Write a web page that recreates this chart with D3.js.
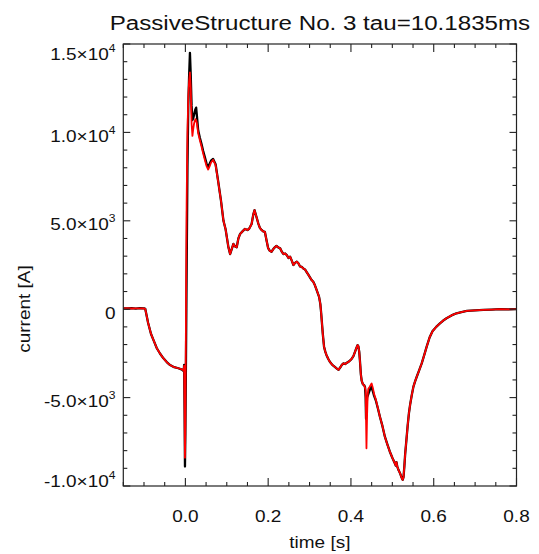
<!DOCTYPE html>
<html><head><meta charset="utf-8">
<script src="https://cdn.jsdelivr.net/npm/d3@7"></script>
<style>html,body{margin:0;padding:0;background:#fff;} svg{display:block;}</style>
</head><body><svg id="c" width="539" height="554"></svg>
<script>
const titleText = "PassiveStructure No. 3 tau=10.1835ms";
const xLabel = "time [s]";
const yLabel = "current [A]";
const xTicks = [0.0, 0.2, 0.4, 0.6, 0.8];
const xTickLabels = ["0.0", "0.2", "0.4", "0.6", "0.8"];
const yTicks = [-10000, -5000, 0, 5000, 10000, 15000];
const yTickMantissa = ["-1.0\u00d710", "-5.0\u00d710", "0", "5.0\u00d710", "1.0\u00d710", "1.5\u00d710"];
const yTickExponent = ["4", "3", "", "3", "4", "4"];

const time = [-0.150,-0.140,-0.130,-0.120,-0.110,-0.100,-0.097,-0.090,-0.083,-0.077,-0.069,-0.061,-0.053,-0.045,-0.037,-0.027,-0.017,-0.008,-0.004,-0.003,-0.002,-0.001,0.000,0.001,0.003,0.005,0.007,0.009,0.011,0.013,0.015,0.017,0.019,0.021,0.024,0.026,0.028,0.031,0.035,0.039,0.043,0.047,0.051,0.055,0.058,0.062,0.067,0.073,0.079,0.086,0.092,0.097,0.104,0.108,0.112,0.116,0.120,0.124,0.128,0.132,0.138,0.144,0.150,0.154,0.160,0.164,0.167,0.172,0.176,0.180,0.184,0.188,0.192,0.196,0.200,0.204,0.208,0.214,0.220,0.225,0.229,0.233,0.237,0.241,0.245,0.249,0.253,0.257,0.261,0.265,0.269,0.273,0.277,0.281,0.285,0.289,0.293,0.297,0.301,0.305,0.309,0.313,0.317,0.320,0.323,0.326,0.328,0.330,0.332,0.335,0.338,0.341,0.345,0.349,0.355,0.361,0.366,0.370,0.374,0.378,0.382,0.386,0.390,0.394,0.398,0.402,0.406,0.410,0.413,0.416,0.418,0.420,0.422,0.424,0.426,0.429,0.432,0.434,0.4355,0.4365,0.4375,0.439,0.4405,0.442,0.445,0.4485,0.450,0.453,0.456,0.460,0.465,0.470,0.476,0.482,0.488,0.494,0.500,0.506,0.5085,0.510,0.512,0.515,0.519,0.522,0.525,0.527,0.529,0.531,0.534,0.537,0.540,0.543,0.547,0.551,0.555,0.559,0.565,0.571,0.577,0.583,0.590,0.597,0.606,0.615,0.623,0.631,0.643,0.655,0.667,0.680,0.700,0.720,0.740,0.760,0.780,0.800];

const measured = [50,40,60,30,60,50,20,-780,-1400,-1750,-2210,-2520,-2780,-2990,-3160,-3280,-3340,-3420,-3500,-3150,-5600,-8900,-7000,-4200,2000,8000,11500,13200,14500,13200,11500,10700,10800,11000,11300,11400,10900,10100,9700,9340,8950,8600,8250,8030,8200,8400,8500,8200,7270,6140,5000,4540,3500,3120,3400,3690,3550,3500,4000,4250,4400,4540,4480,4550,4820,5350,5600,5200,4860,4600,4480,4400,4380,3900,3450,3300,3250,3450,3580,3480,3440,3250,3120,3150,3060,2900,2970,2750,2500,2620,2690,2600,2420,2400,2300,2250,2100,1950,1800,1650,1550,1350,1090,900,700,300,-200,-800,-1400,-2120,-2400,-2600,-2800,-2970,-3150,-3260,-3360,-3430,-3300,-3150,-3060,-3100,-3030,-2980,-2900,-2800,-2650,-2400,-2200,-2030,-2100,-2400,-3000,-3700,-4050,-4250,-4300,-4400,-5000,-6200,-5600,-5000,-4900,-4800,-4600,-4380,-4450,-4650,-4900,-5150,-5600,-6080,-6600,-7210,-7650,-8060,-8400,-8716,-8850,-8650,-8900,-9100,-9300,-9500,-9650,-9500,-8900,-8200,-7400,-6600,-5900,-5400,-4850,-4380,-4080,-3820,-3450,-3060,-2600,-2120,-1600,-1250,-1000,-800,-640,-510,-350,-230,-160,-100,-70,-40,-20,0,-10,0];

const model = [50,60,40,50,50,40,20,-780,-1400,-1750,-2210,-2520,-2780,-2990,-3160,-3280,-3340,-3400,-3480,-3200,-5400,-8400,-6500,-2000,6000,10000,12000,12900,13400,12500,10500,9800,10200,10500,10750,10700,10500,9950,9550,9200,8800,8450,8100,7900,8050,8300,8450,8150,7250,6140,5000,4540,3500,3120,3400,3690,3550,3500,4000,4250,4400,4540,4480,4550,4820,5350,5600,5200,4860,4600,4480,4400,4380,3900,3450,3300,3250,3450,3580,3480,3440,3250,3120,3150,3060,2900,2970,2750,2500,2620,2690,2600,2420,2400,2300,2250,2100,1950,1800,1650,1550,1350,1090,900,700,300,-200,-800,-1400,-2120,-2400,-2600,-2800,-2970,-3150,-3260,-3360,-3430,-3300,-3150,-3060,-3100,-3030,-2980,-2900,-2800,-2650,-2400,-2200,-2030,-2100,-2400,-3000,-3700,-4050,-4250,-4300,-4450,-4600,-6300,-7870,-6000,-4800,-4500,-4400,-4250,-4200,-4450,-4800,-5100,-5580,-6080,-6600,-7210,-7650,-8060,-8400,-8716,-8850,-8650,-8900,-9100,-9300,-9500,-9650,-9500,-8900,-8200,-7400,-6600,-5900,-5400,-4850,-4380,-4080,-3820,-3450,-3060,-2600,-2120,-1600,-1250,-1000,-800,-640,-510,-350,-230,-160,-100,-70,-40,-20,0,-10,0];

const L = 123.3, R = 516.5, T = 44, B = 486;
const FONT = "'Liberation Sans', Arial, Helvetica, sans-serif";
const STRETCH = 1.15;
const svg = d3.select("#c");
const x = d3.scaleLinear().domain([-0.15, 0.8]).range([L, R]);
const y = d3.scaleLinear().domain([-10000, 15000]).range([B, T]);

svg.append("defs").append("clipPath").attr("id", "clip")
  .append("rect").attr("x", L).attr("y", T).attr("width", R - L).attr("height", B - T);

const pts = (vals) => time.map((t, i) => [t, vals[i]]);
const line = d3.line().x(d => x(d[0])).y(d => y(d[1]));
const g = svg.append("g").attr("clip-path", "url(#clip)");
g.append("path").datum(pts(measured)).attr("d", line)
  .attr("fill", "none").attr("stroke", "#000").attr("stroke-width", 2.3).attr("stroke-linejoin", "round");
g.append("path").datum(pts(model)).attr("d", line)
  .attr("fill", "none").attr("stroke", "#ff0000").attr("stroke-width", 1.8).attr("stroke-linejoin", "round");

// frame
svg.append("rect").attr("x", L).attr("y", T).attr("width", R - L).attr("height", B - T)
  .attr("fill", "none").attr("stroke", "#222").attr("stroke-width", 1.2);

const tk = svg.append("g").attr("stroke", "#222").attr("stroke-width", 1.1);
// x ticks (minor every 0.05, major every 0.2)
d3.range(-0.15, 0.8001, 0.05).forEach(v => {
  const major = xTicks.some(m => Math.abs(m - v) < 1e-6);
  const len = major ? 8 : 4;
  const px = x(v);
  tk.append("line").attr("x1", px).attr("x2", px).attr("y1", B).attr("y2", B - len);
  tk.append("line").attr("x1", px).attr("x2", px).attr("y1", T).attr("y2", T + len);
});
// y ticks (minor every 1000, major every 5000)
d3.range(-10000, 15001, 1000).forEach(v => {
  const major = yTicks.includes(v);
  const len = major ? 7 : 4;
  const py = y(v);
  tk.append("line").attr("x1", L).attr("x2", L + len).attr("y1", py).attr("y2", py);
  tk.append("line").attr("x1", R).attr("x2", R - len).attr("y1", py).attr("y2", py);
});

function stretchedText(px, py, anchor, size, rotate) {
  const gg = svg.append("g").attr("transform", `translate(${px},${py})` + (rotate ? ` rotate(${rotate})` : ""));
  return gg.append("text").attr("transform", `scale(${STRETCH},1)`)
    .attr("text-anchor", anchor).attr("font-family", FONT).attr("font-size", size).attr("fill", "#111");
}

// x tick labels
xTicks.forEach((v, i) => {
  stretchedText(x(v), 522, "middle", 16.5).text(xTickLabels[i]);
});
// y tick labels
yTicks.forEach((v, i) => {
  const base = Math.max(60, Math.min(486.5, y(v) + 9.5));
  const t = stretchedText(115.5, base, "end", 16.5);
  t.append("tspan").text(yTickMantissa[i]);
  if (yTickExponent[i]) t.append("tspan").attr("font-size", 10.5).attr("dy", -8).text(yTickExponent[i]);
});

// title & axis labels
stretchedText((L + R) / 2, 30, "middle", 21).text(titleText);
stretchedText((L + R) / 2, 548, "middle", 16.5).text(xLabel);
stretchedText(30, (T + B) / 2 + 44, "middle", 16.5, -90).text(yLabel);
</script></body></html>
